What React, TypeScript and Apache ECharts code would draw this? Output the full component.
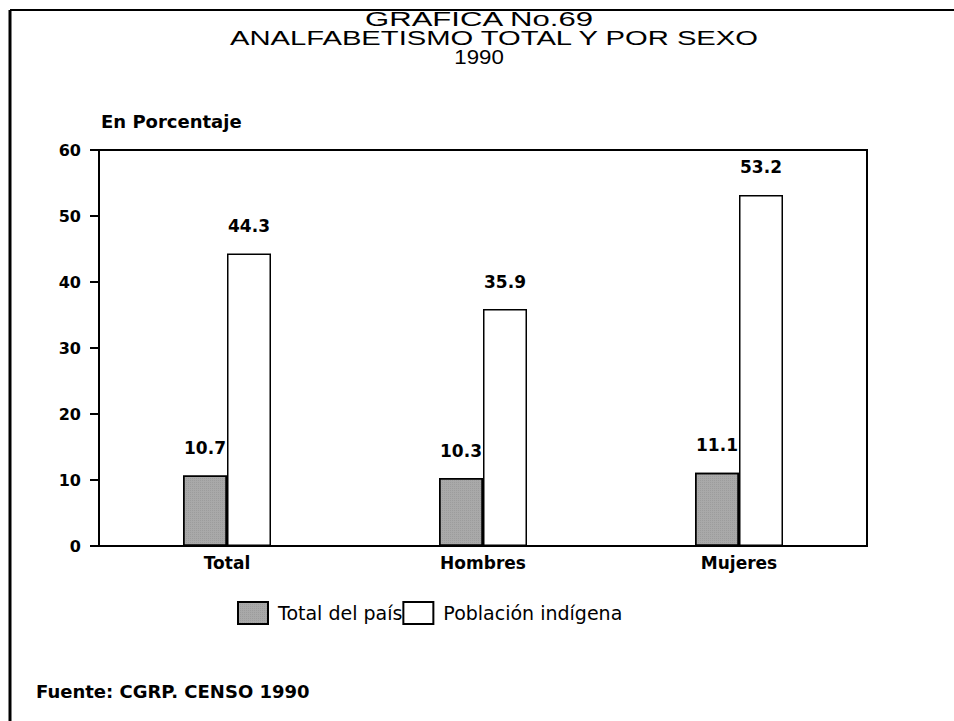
import React, { useEffect, useRef } from "react";
import * as echarts from "echarts";

const categories = ["Total", "Hombres", "Mujeres"];
const totalPais = [10.7, 10.3, 11.1];
const poblacionIndigena = [44.3, 35.9, 53.2];
const seriesNames = ["Total del país", "Población indígena"];
const titleLines = ["GRAFICA No.69", "ANALFABETISMO TOTAL Y POR SEXO", "1990"];
const unitLabel = "En Porcentaje";
const sourceNote = "Fuente: CGRP. CENSO 1990";

const SANS = "'Liberation Sans', Arial, sans-serif";
const DEJA = "'DejaVu Sans', sans-serif";

export default function App() {
  const ref = useRef<HTMLDivElement>(null);
  useEffect(() => {
    document.body.style.margin = "0";
    const chart = echarts.init(ref.current!, null, { renderer: "svg" });
    const titleLayout = [
      { x: 479, y: 19, sx: 1.48 },
      { x: 494, y: 38, sx: 1.39 },
      { x: 479, y: 57, sx: 1.06 },
    ];
    chart.setOption({
      animation: false,
      backgroundColor: "#fff",
      textStyle: { fontFamily: DEJA },
      legend: {
        left: 232,
        top: 596,
        itemWidth: 30,
        itemHeight: 22,
        itemGap: 0,
        icon: "rect",
        data: seriesNames,
        textStyle: { fontSize: 19, color: "#000", fontFamily: DEJA, padding: [0, 0, 0, 5] },
      },
      grid: {
        left: 99,
        right: 87,
        top: 150,
        bottom: 175,
        show: true,
        borderColor: "#000",
        borderWidth: 2,
      },
      xAxis: {
        type: "category",
        data: categories,
        axisLine: { lineStyle: { color: "#000", width: 2 } },
        axisTick: { alignWithLabel: true, length: 6, lineStyle: { color: "#000" } },
        axisLabel: { fontSize: 17, margin: 8, color: "#000", fontFamily: DEJA, fontWeight: "bold" },
      },
      yAxis: {
        type: "value",
        min: 0,
        max: 60,
        interval: 10,
        splitLine: { show: false },
        axisLine: { show: true, lineStyle: { color: "#000", width: 2 } },
        axisTick: { show: true, length: 9, lineStyle: { color: "#000", width: 2 } },
        axisLabel: { fontSize: 16, margin: 18, color: "#000", fontFamily: DEJA, fontWeight: "bold" },
      },
      series: [
        {
          name: seriesNames[0],
          type: "bar",
          data: totalPais,
          barWidth: 44,
          barGap: "0%",
          itemStyle: {
            color: "#a9a9a9",
            borderColor: "#000",
            borderWidth: 1.5,
            decal: {
              symbol: "rect",
              symbolSize: 0.5,
              dashArrayX: [1, 1],
              dashArrayY: [1, 1],
              color: "rgba(60,60,60,0.5)",
              rotation: 0,
            },
          },
          label: {
            show: true,
            position: "top",
            distance: 19,
            fontSize: 17,
            color: "#000",
            fontFamily: DEJA,
            fontWeight: "bold",
          },
        },
        {
          name: seriesNames[1],
          type: "bar",
          data: poblacionIndigena,
          barWidth: 44,
          itemStyle: { color: "#fff", borderColor: "#000", borderWidth: 1.5 },
          label: {
            show: true,
            position: "top",
            distance: 19,
            fontSize: 17,
            color: "#000",
            fontFamily: DEJA,
            fontWeight: "bold",
          },
        },
      ],
      graphic: [
        { type: "line", shape: { x1: 10, y1: 10, x2: 954, y2: 10 }, style: { stroke: "#000", lineWidth: 2 } },
        { type: "line", shape: { x1: 10, y1: 10, x2: 10, y2: 721 }, style: { stroke: "#000", lineWidth: 3 } },
        ...titleLines.map((t, i) => ({
          type: "text",
          x: titleLayout[i].x,
          y: titleLayout[i].y,
          scaleX: titleLayout[i].sx,
          style: {
            text: t,
            align: "center",
            verticalAlign: "middle",
            fontSize: 21,
            fontFamily: SANS,
            fill: "#000",
          },
        })),
        {
          type: "text",
          x: 101,
          y: 121,
          style: { text: unitLabel, verticalAlign: "middle", fontSize: 18, fontWeight: "bold", fontFamily: DEJA, fill: "#000" },
        },
        {
          type: "text",
          x: 36,
          y: 691,
          style: { text: sourceNote, verticalAlign: "middle", fontSize: 18, fontWeight: "bold", fontFamily: DEJA, fill: "#000" },
        },
      ],
    });
    return () => chart.dispose();
  }, []);
  return <div ref={ref} style={{ width: 954, height: 721, position: "absolute", left: 0, top: 0 }} />;
}
